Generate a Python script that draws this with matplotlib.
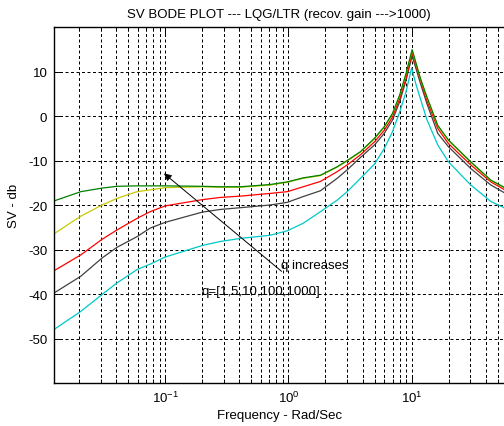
import matplotlib
matplotlib.use("Agg")
import matplotlib.pyplot as plt
from matplotlib.ticker import LogLocator, NullFormatter

plt.rcParams["font.family"] = ["Liberation Sans", "DejaVu Sans"]
plt.rcParams["mathtext.fontset"] = "custom"
plt.rcParams["mathtext.rm"] = "Liberation Sans"
plt.rcParams["axes.unicode_minus"] = False

FONT_SIZE = 9.5

# frequency points (rad/s)
freq = [0.0125, 0.0207, 0.0308, 0.0407, 0.0592, 0.0755, 0.1, 0.2, 0.28, 0.41,
        0.71, 0.98, 1.32, 1.82, 2.49, 3.0, 3.85, 5.0, 6.0, 7.0,
        8.0, 9.0, 10.1, 11.8, 13.3, 16.3, 19.9, 30.2, 43.9, 56.2]

sv_q1000 = [-19.1, -17.0, -16.2, -15.8, -15.7, -15.7, -15.7, -15.8, -15.9, -15.9,
            -15.4, -14.8, -13.9, -13.3, -11.4, -10.0, -8.0, -5.0, -2.4, 0.6,
            4.7, 9.5, 14.9, 8.4, 4.3, -2.1, -5.4, -10.3, -14.4, -16.0]
sv_q100 = [-26.5, -22.5, -20.0, -18.5, -17.0, -16.6, -16.1, -15.9, -16.0, -16.0,
           -15.5, -14.9, -14.0, -13.4, -11.5, -10.1, -8.1, -5.1, -2.5, 0.5,
           4.6, 9.4, 14.8, 8.3, 4.2, -2.2, -5.5, -10.4, -14.5, -16.1]
sv_q10 = [-34.8, -31.2, -27.7, -25.6, -23.0, -21.5, -20.2, -18.8, -18.3, -18.0,
          -17.4, -17.0, -15.9, -14.7, -12.5, -11.0, -8.7, -5.8, -3.2, -0.2,
          3.9, 8.4, 14.2, 8.0, 3.5, -2.8, -6.2, -11.0, -14.8, -16.5]
sv_q5 = [-39.8, -36.0, -31.9, -29.5, -27.1, -25.2, -23.9, -21.6, -21.0, -20.6,
         -20.0, -19.4, -18.1, -16.8, -14.0, -12.1, -9.3, -6.5, -3.9, -0.9,
         3.2, 8.0, 13.5, 7.3, 2.8, -3.9, -6.9, -11.8, -15.5, -17.2]

freq_q1 = [0.0125, 0.0207, 0.0308, 0.0407, 0.0592, 0.0755, 0.1, 0.2, 0.28, 0.41,
           0.71, 0.98, 1.32, 1.82, 2.49, 3.0, 3.85, 5.0, 6.0, 7.0,
           8.0, 9.0, 10.0, 10.9, 13.3, 16.3, 19.9, 30.2, 43.9, 56.2]
sv_q1 = [-48.0, -43.9, -40.1, -37.5, -34.5, -33.3, -31.7, -29.1, -28.2, -27.5,
         -26.8, -25.8, -24.1, -21.5, -18.9, -17.0, -14.0, -10.8, -7.3, -3.5,
         0.9, 5.4, 10.8, 6.9, -0.8, -6.5, -10.3, -15.5, -19.2, -20.6]

curves = [
    (freq_q1, sv_q1, "#00c8c8"),
    (freq, sv_q5, "#404040"),
    (freq, sv_q10, "#ff0000"),
    (freq, sv_q100, "#c8c800"),
    (freq, sv_q1000, "#008000"),
]

fig = plt.figure(figsize=(5.04, 4.27), dpi=100)
ax = fig.add_axes([0.1077, 0.1007, 0.8923, 0.8337])

for f, sv, color in curves:
    ax.plot(f, sv, color=color, lw=0.9)

ax.set_xscale("log")
ax.set_xlim(0.0126, 56.2)
ax.set_ylim(-60, 20)
ax.set_yticks(range(-50, 11, 10))
ax.xaxis.set_minor_locator(LogLocator(base=10, subs=range(2, 10)))
ax.xaxis.set_minor_formatter(NullFormatter())

grid_style = dict(color="k", lw=0.72, linestyle=(0, (3, 2.5)))
ax.grid(True, which="major", axis="both", **grid_style)
ax.grid(True, which="minor", axis="x", **grid_style)
ax.set_axisbelow(True)

ax.spines["right"].set_visible(False)
for s in ["left", "bottom", "top"]:
    ax.spines[s].set_linewidth(1.0)
ax.tick_params(which="both", direction="in", top=True, labelsize=FONT_SIZE, width=0.7)
ax.tick_params(which="major", length=5, pad=5)
ax.tick_params(which="minor", length=3)

ax.set_title("SV BODE PLOT --- LQG/LTR (recov. gain --->1000)", fontsize=FONT_SIZE, pad=7)
ax.set_xlabel("Frequency - Rad/Sec", fontsize=FONT_SIZE, labelpad=3)
ax.set_ylabel("SV - db", fontsize=FONT_SIZE, labelpad=6)

ax.annotate("", xy=(0.094, -12.5), xytext=(0.916, -35.3),
            arrowprops=dict(arrowstyle="-|>", color="k", lw=0.7, mutation_scale=11))
ax.text(0.877, -33.5, "q increases", fontsize=FONT_SIZE, va="center", ha="left")
ax.text(0.199, -39.3, "q=[1,5,10,100,1000]", fontsize=FONT_SIZE, va="center", ha="left")

fig.savefig("out.png", dpi=100)
